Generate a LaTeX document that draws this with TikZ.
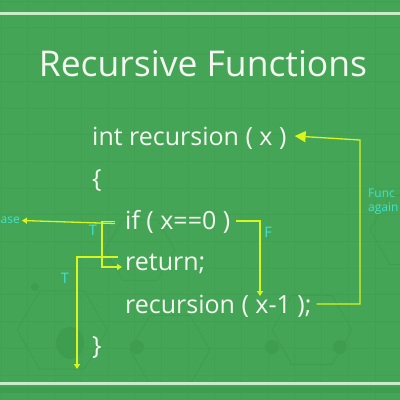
\documentclass[tikz,border=0pt]{standalone}
\usepackage{fontspec}
\setmainfont{Open Sans}
\usetikzlibrary{arrows.meta}
\definecolor{bg}{HTML}{45A556}
\definecolor{gridc}{HTML}{41A051}
\definecolor{hexc}{HTML}{3F9D4F}
\definecolor{txt}{HTML}{F4F8F0}
\definecolor{arr}{HTML}{D8F51E}
\definecolor{lab}{HTML}{3FE3D2}
\definecolor{rule}{HTML}{C8EBC8}
\tikzset{
  code/.style={text=txt, font=\fontsize{25}{28}\selectfont, anchor=west, inner sep=0pt},
  lbl/.style={text=lab, font=\fontsize{14.5}{16}\selectfont, inner sep=0pt},
  sidelbl/.style={text=lab, font=\fontsize{12}{14}\selectfont, inner sep=0pt},
  conn/.style={draw=arr, line width=1.3pt},
  tipsmall/.style={-{Triangle[length=5pt,width=6pt]}},
  tipbig/.style={-{Triangle[length=11pt,width=11pt]}},
}
\begin{document}
\begin{tikzpicture}[x=1pt,y=-1pt]
\useasboundingbox (0,0) rectangle (400,400);
\clip (0,0) rectangle (400,400);
\fill[bg] (0,0) rectangle (400,400);
% faint grid
\foreach \i in {0,...,15} {
  \draw[gridc, line width=0.6pt] (\i*26.7+1,0) -- (\i*26.7+1,400);
  \draw[gridc, line width=0.6pt] (0,\i*26.7+1) -- (400,\i*26.7+1);
}
% faint hexagons
\foreach \cx/\cy/\r in {62/330/45, 170/350/40, 410/230/40, 312/330/40, 140/250/35} {
  \draw[hexc, line width=0.8pt] (\cx+\r,\cy) -- (\cx+\r/2,\cy-0.866*\r) -- (\cx-\r/2,\cy-0.866*\r) -- (\cx-\r,\cy) -- (\cx-\r/2,\cy+0.866*\r) -- (\cx+\r/2,\cy+0.866*\r) -- cycle;
}
\fill[hexc] (70,343) ellipse (14 and 16);
\fill[hexc] (137,347) circle (7);
\fill[hexc] (272,347) circle (7);
\fill[hexc] (340,347) circle (7);
\fill[hexc] (35,287) circle (4);
% rules
\fill[rule] (0,12) rectangle (400,14.5);
\fill[rule] (0,382) rectangle (400,384.5);
\fill[hexc] (0,387) rectangle (400,393);
% title
\node[text=txt, font=\fontsize{35.5}{40}\selectfont, inner sep=0pt] (title) at (203,64) {Recursive Functions};
% code
\node[code] (l1) at (92,138) {int recursion ( x )};
\node[code] (l2) at (92,181) {\{};
\node[code] (l3) at (125,222) {if ( x==0 )};
\node[code] (l4) at (125,264) {return;};
\node[code] (l5) at (125,306) {recursion ( x-1 );};
\node[code] (l6) at (92,348) {\}};
% coordinates
\coordinate (base) at (22,220.5);
\coordinate (bot) at (77,369);
\coordinate (fend) at (260,296);
\coordinate (rcorner) at (360,140);
% labels
\node[sidelbl, anchor=west] (blab) at (0.5,220.5) {ase};
\node[lbl] (t1) at (93,230) {T};
\node[lbl] (t2) at (65,278) {T};
\node[lbl] (f1) at (268,232) {F};
\node[sidelbl, anchor=west, align=left] (fl) at (368,202) {Func\\again};
% connectors
\draw[conn, tipsmall] ([xshift=-10pt,yshift=-1.5pt]l3.west) -- (base);
\draw[conn, tipsmall] ([xshift=-10pt,yshift=0.5pt]l3.west) -| ([xshift=-23pt]l3.west) |- ([xshift=-3pt,yshift=-3pt]l4.west);
\draw[conn, tipsmall] ([xshift=-7pt,yshift=7pt]l4.west) -| (bot);
\draw[conn, tipsmall] ([xshift=6pt,yshift=1pt]l3.east) -| (fend);
\draw[conn, tipbig] ([xshift=5pt,yshift=2pt]l5.east) -| (rcorner) -- ([xshift=8pt,yshift=2pt]l1.east);
\end{tikzpicture}
\end{document}
